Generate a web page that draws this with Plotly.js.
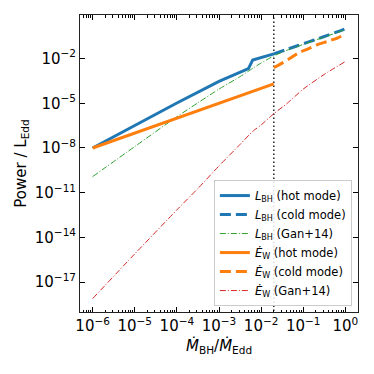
<!DOCTYPE html>
<html>
<head>
<meta charset="utf-8">
<script src="https://cdn.plot.ly/plotly-3.0.1.min.js"></script>
<style>
  html, body { margin: 0; padding: 0; background: #fff; }
  #chart { width: 374px; height: 374px; }
</style>
</head>
<body>
<div id="chart"></div>
<script>
// accretion rate (Mdot_BH / Mdot_Edd) and power / L_Edd
const hotX = [1e-6, 1e-5, 1e-4, 1e-3, 5e-3, 6.3e-3, 0.02];
const lbhHot = [1e-8, 3.4e-7, 1.05e-5, 2.9e-4, 2.1e-3, 7.9e-3, 0.0204];
const ewHot = [1e-8, 1e-7, 1e-6, 1e-5, 5e-5, 6.3e-5, 2e-4];

const coldX = [0.02, 0.044, 0.076, 0.13, 0.22, 0.39, 0.66, 1.0];
const lbhCold = [0.0204, 0.044, 0.075, 0.125, 0.21, 0.37, 0.63, 1.0];
const ewCold = [0.0024, 0.0085, 0.024, 0.045, 0.087, 0.145, 0.245, 0.42];

const ganX = [1e-6, 1e-5, 1e-4, 3.2e-4, 1e-3, 3.2e-3, 6.3e-3, 0.01, 0.02, 0.04, 0.1, 0.32, 1.0];
const lbhGan = [1.2e-10, 1.25e-8, 1.25e-6, 1.1e-5, 8.9e-5, 6.3e-4, 2.2e-3, 5e-3, 1.5e-2, 3.5e-2, 0.089, 0.28, 0.87];
const ewGan = [7.9e-19, 7.9e-16, 7.1e-13, 2e-11, 6.3e-10, 1.8e-8, 1.3e-7, 3.5e-7, 2e-6, 9e-6, 8.9e-5, 8.9e-4, 6.3e-3];

const vlineX = [0.02, 0.02];
const vlineY = [1e-20, 10];

const xTicks = [1e-6, 1e-5, 1e-4, 1e-3, 1e-2, 1e-1, 1];
const xTickText = ['10<sup>−6</sup>', '10<sup>−5</sup>', '10<sup>−4</sup>', '10<sup>−3</sup>',
  '10<sup>−2</sup>', '10<sup>−1</sup>', '10<sup>0</sup>'];
const yTicks = [1e-17, 1e-14, 1e-11, 1e-8, 1e-5, 1e-2];
const yTickText = ['10<sup>−17</sup>', '10<sup>−14</sup>', '10<sup>−11</sup>',
  '10<sup>−8</sup>', '10<sup>−5</sup>', '10<sup>−2</sup>'];

const xMinor = [];
for (let d = -7; d <= 0; d++) {
  for (let k = 2; k <= 9; k++) xMinor.push(k * Math.pow(10, d));
}

const blue = '#1f77b4', orange = '#ff7f0e', green = '#2ca02c', red = '#d62728';
const LBH = '<i>L</i><sub>BH</sub>';
const EW = '<i>Ė</i><sub>W</sub>';

const traces = [
  { x: vlineX, y: vlineY, mode: 'lines', showlegend: false, hoverinfo: 'skip',
    line: { color: '#222', width: 1.5, dash: '1.5px,2.5px' } },
  { x: hotX, y: lbhHot, mode: 'lines', name: LBH + ' (hot mode)',
    line: { color: blue, width: 3 } },
  { x: coldX, y: lbhCold, mode: 'lines', name: LBH + ' (cold mode)',
    line: { color: blue, width: 3, dash: '11px,5px', shape: 'spline', smoothing: 0.6 } },
  { x: ganX, y: lbhGan, mode: 'lines', name: LBH + ' (Gan+14)',
    line: { color: green, width: 1, dash: '6px,2px,1px,2px', shape: 'spline', smoothing: 0.6 } },
  { x: hotX, y: ewHot, mode: 'lines', name: EW + ' (hot mode)',
    line: { color: orange, width: 3 } },
  { x: coldX, y: ewCold, mode: 'lines', name: EW + ' (cold mode)',
    line: { color: orange, width: 3, dash: '11px,5px', shape: 'spline', smoothing: 0.6 } },
  { x: ganX, y: ewGan, mode: 'lines', name: EW + ' (Gan+14)',
    line: { color: red, width: 1, dash: '6px,2px,1px,2px', shape: 'spline', smoothing: 0.6 } }
];

const layout = {
  width: 374, height: 374,
  margin: { l: 80, r: 16, t: 15, b: 62 },
  paper_bgcolor: '#fff', plot_bgcolor: '#fff',
  font: { family: 'DejaVu Sans, sans-serif', color: '#000', size: 15 },
  showlegend: true,
  xaxis: {
    type: 'log', range: [-6.3, 0.3],
    tickvals: xTicks, ticktext: xTickText,
    ticks: 'inside', ticklen: 5, tickwidth: 1, tickcolor: '#000',
    showline: true, linecolor: '#222', linewidth: 1, mirror: 'ticks',
    showgrid: false, zeroline: false,
    tickfont: { size: 15 },
    minor: { tickvals: xMinor, ticks: 'inside', ticklen: 2.5, tickcolor: '#000', showgrid: false }
  },
  yaxis: {
    type: 'log', range: [-19.0, 0.92],
    tickvals: yTicks, ticktext: yTickText,
    ticks: 'inside', ticklen: 5, tickwidth: 1, tickcolor: '#000',
    showline: true, linecolor: '#222', linewidth: 1, mirror: 'ticks',
    showgrid: false, zeroline: false,
    tickfont: { size: 15 },
    title: { text: 'Power / L<sub>Edd</sub>', font: { size: 15 }, standoff: 4 }
  },
  annotations: [{
    text: '<i>Ṁ</i><sub>BH</sub>/<i>Ṁ</i><sub>Edd</sub>',
    xref: 'paper', yref: 'paper', x: 0.5, y: -0.113, xanchor: 'center', yanchor: 'middle',
    showarrow: false, font: { size: 15 }
  }],
  legend: {
    x: 0.978, xanchor: 'right', y: 0.02, yanchor: 'bottom',
    bgcolor: 'rgba(255,255,255,0.85)', bordercolor: '#ccc', borderwidth: 1,
    font: { size: 11.5 }, tracegroupgap: 0, itemwidth: 30
  }
};

Plotly.newPlot('chart', traces, layout, { displayModeBar: false, staticPlot: true });
</script>
</body>
</html>
